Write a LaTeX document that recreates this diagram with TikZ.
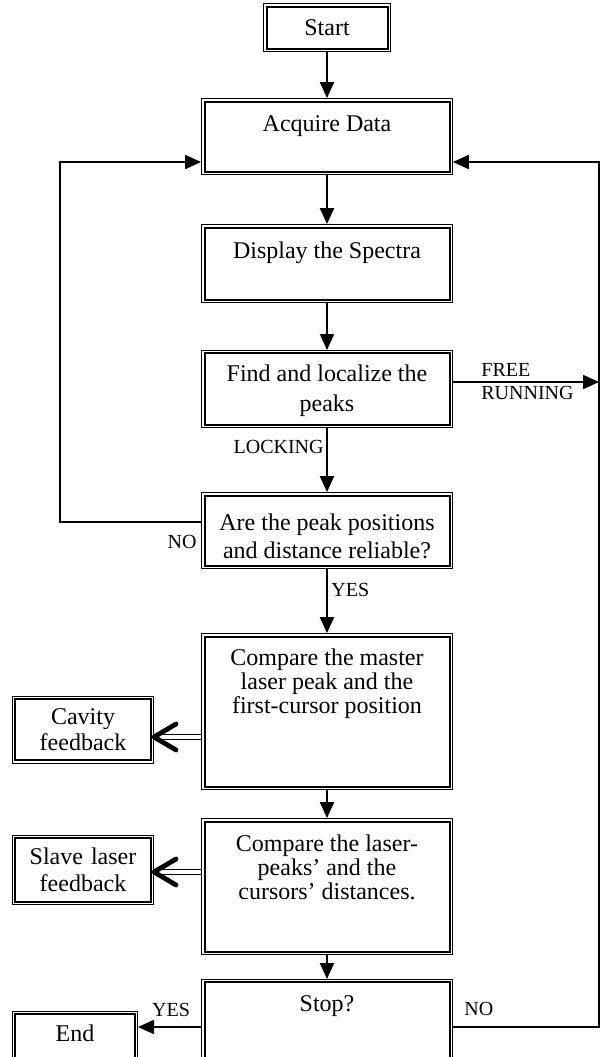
\documentclass[tikz,border=0pt]{standalone}
\usepackage{fontspec}
\setmainfont{Liberation Serif}
\usetikzlibrary{arrows.meta,positioning,calc,decorations.markings}

% text placed at the top of a box: height, width, first baseline, text
\newcommand{\toptext}[4]{\parbox[c][#1][t]{#2}{\centering\rule{0pt}{#3}#4}}

\begin{document}
\begin{tikzpicture}[x=0.5pt,y=-0.5pt,
    box/.style={draw, fill=white, line width=1pt, inner sep=0pt, outer sep=1.7pt,
      preaction={draw, line width=3.4pt}, preaction={draw=white, line width=2.4pt},
      font=\fontsize{12}{14}\selectfont, align=center},
    mainbox/.style={box, minimum width=122.5pt},
    sidebox/.style={box, minimum width=67.6pt, text width=64pt},
    arr/.style={line width=1pt, -{Triangle[length=8pt,width=7pt]}},
    dbl/.style={double, double distance=1.6pt, line width=0.5pt,
      postaction={decorate, decoration={markings, mark=at position 1 with
        {\draw[line width=2.4pt, line cap=round, line join=round]
          (-11pt,6.5pt) -- (0pt,0pt) -- (-11pt,-6.5pt);}}}},
    lbl/.style={font=\fontsize{10}{11.5}\selectfont, inner sep=0pt}]
  \useasboundingbox (0,0) rectangle (600,1057);
  \clip (0,0) rectangle (600,1057);

  \coordinate (leftrail) at (60,0);
  \coordinate (rightrail) at (599,0);

  % main column
  \node[box, minimum width=60.5pt, minimum height=21pt] (start) at (327,27.5) {Start};
  \node[mainbox] (acq) at (327,136.5) {\toptext{35pt}{118pt}{15pt}{Acquire Data}};
  \node[mainbox] (disp) at (327,263.5) {\toptext{36pt}{118pt}{15.3pt}{Display the Spectra}};
  \node[mainbox, font=\fontsize{12}{15}\selectfont] (find) at (327,389)
    {\toptext{35.6pt}{118pt}{13.8pt}{Find and localize the\\peaks}};
  \node[mainbox] (are) at (327,530.5)
    {\toptext{35pt}{118pt}{17.3pt}{Are the peak positions\\and distance reliable?}};
  \node[mainbox, font=\fontsize{12}{12}\selectfont] (cmpm) at (327,711.5)
    {\toptext{75pt}{118pt}{14.3pt}{Compare the master\\laser peak and the\\first-cursor position}};
  \node[mainbox, font=\fontsize{12}{12}\selectfont] (cmpl) at (327,886.5)
    {\toptext{65pt}{118pt}{14.8pt}{Compare the laser-\\peaks' and the\\cursors' distances.}};
  \node[mainbox] (stop) at (327,1032) {\toptext{49.6pt}{118pt}{14.3pt}{Stop?}};

  % side boxes
  \node[sidebox, minimum height=30.6pt, font=\fontsize{12}{13}\selectfont] (cav) at (83,729.5) {Cavity\\feedback};
  \node[sidebox, minimum height=31.6pt, font=\fontsize{12}{13.5}\selectfont] (slave) at (83,870) {Slave laser\\feedback};
  \node[box, minimum width=59.6pt] (end) at (75,1044.4) {\toptext{30pt}{55pt}{13.3pt}{End}};

  % flow
  \draw[arr] (start) -- (acq);
  \draw[arr] (acq) -- (disp);
  \draw[arr] (disp) -- (find);
  \draw[arr] (find) -- (are);
  \draw[arr] (are) -- (cmpm);
  \draw[arr] (cmpm) -- (cmpl);
  \draw[arr] (cmpl) -- (stop);

  % loops back to the acquisition
  \draw[arr] (are.west |- 0,522) -| (leftrail |- 0,162) -- (acq.west |- 0,162);
  \draw[arr] (stop.east |- 0,1027) -| (rightrail |- 0,162) -- (acq.east |- 0,162);
  \draw[arr] (find.east |- 0,382) -- (rightrail |- 0,382);
  \draw[arr] (stop.west |- 0,1027) -- (end.east |- 0,1027);

  % feedbacks
  \draw[dbl] (cmpm.west |- 0,737) -- (cav.east |- 0,737);
  \draw[dbl] (cmpl.west |- 0,872) -- (slave.east |- 0,872);

  % labels
  \node[lbl, anchor=west, align=left] (freelbl) at (481,381.5) {FREE\\RUNNING};
  \node[lbl, anchor=east] (locklbl) at (324,447) {LOCKING};
  \node[lbl, anchor=east] (nolbl) at (197,542) {NO};
  \node[lbl, anchor=west] (yeslbl) at (331,590) {YES};
  \node[lbl] (yesend) at (171,1010) {YES};
  \node[lbl, anchor=west] (nostop) at (464,1009) {NO};
\end{tikzpicture}
\end{document}
